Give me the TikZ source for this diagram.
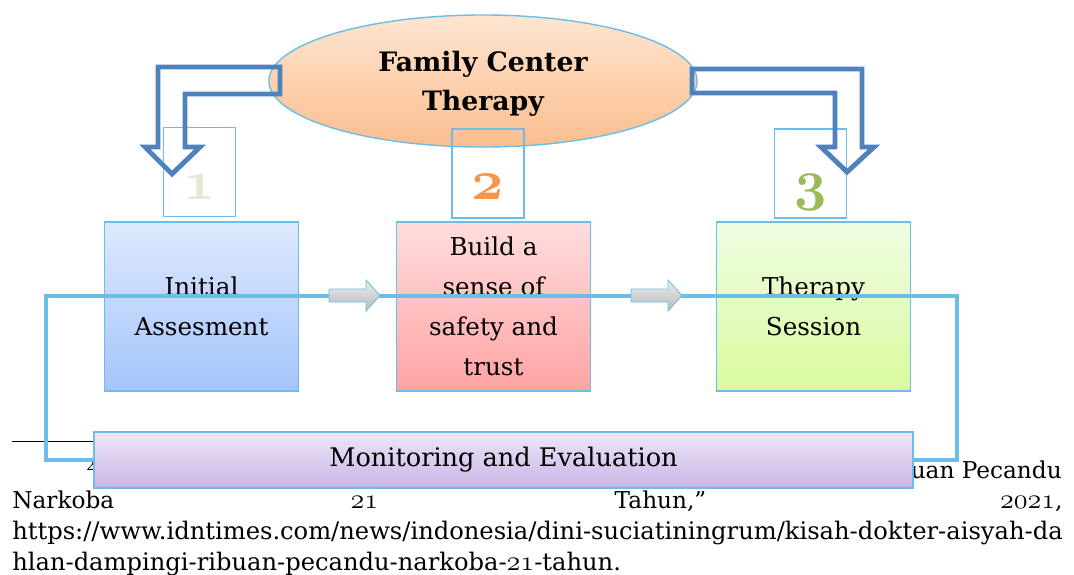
\RequirePackage{fix-cm}
\documentclass[tikz,border=0pt]{standalone}
\usetikzlibrary{shapes.geometric}
\usepackage{fontspec}
\setmainfont{DejaVu Serif}
\usepackage{xcolor}
\definecolor{edgeblue}{HTML}{6CBDE8}
\definecolor{flowblue}{HTML}{4F81BD}
\definecolor{numbeige}{HTML}{E9E6D8}
\definecolor{numorange}{HTML}{F79646}
\definecolor{numgreen}{HTML}{9BBB59}
\definecolor{assesstop}{HTML}{DDE9FD}
\definecolor{assessbot}{HTML}{A4C4FA}
\definecolor{safetytop}{HTML}{FFDDDD}
\definecolor{safetybot}{HTML}{FFA3A3}
\definecolor{sessiontop}{HTML}{F0FCE3}
\definecolor{sessionbot}{HTML}{D9FB9D}
\definecolor{monitortop}{HTML}{EEE6F7}
\definecolor{monitorbot}{HTML}{C8B5E6}
\definecolor{fcttop}{HTML}{FEE5D1}
\definecolor{fctbot}{HTML}{FBBE8E}

% old-style figures taken from cm math italic
\newcommand{\osnum}[1]{{\fontencoding{OML}\fontfamily{cmm}\fontshape{it}\selectfont #1}}
\newcommand{\footnum}[1]{{\fontsize{20}{20}\osnum{#1}}}

\begin{document}
\begin{tikzpicture}[x=0.025cm, y=-0.025cm,
    stage/.style n args={2}{draw=edgeblue, top color=#1, bottom color=#2,
                 minimum width=4.85cm, minimum height=4.225cm, align=center,
                 inner sep=0pt, line width=1pt, font=\fontsize{17.5}{28.45}\selectfont},
    numbox/.style={draw=edgeblue, line width=1pt, minimum width=1.8cm, minimum height=2.225cm},
    numtext/.style={text=#1, anchor=base, inner sep=0pt,
                 font=\fontseries{b}\fontsize{40}{40}\selectfont},
    foot/.style={inner sep=0pt, font=\fontsize{16.5}{20}\selectfont},
    loopline/.style={draw=edgeblue, line width=3pt, line join=miter},
    grayarrow/.style={draw=edgeblue, line width=0.6pt, top color=black!8, bottom color=black!27},
    bentarrow/.style={draw=flowblue, line width=3.5pt, line join=miter},
]
\useasboundingbox (0,0) rectangle (1074,574);

% Footnote behind the diagram
\draw[line width=0.7pt] (12,441) -- (200,441);
\node[foot, anchor=west, font=\fontsize{10}{10}\selectfont] (fnmark) at (86,465) {2};
\node[foot, anchor=base east] (fnA) at (1062,478) {uan Pecandu};
\node[foot, anchor=base west] (fnB) at (12,508)
    {\makebox[26.25cm][s]{Narkoba \footnum{21} Tahun,” \footnum{2021},}};
\node[foot, anchor=base west, font=\fontsize{17.2}{20}\selectfont] (fnC) at (12,539)
    {https://www.idntimes.com/news/indonesia/dini-suciatiningrum/kisah-dokter-aisyah-da};
\node[foot, anchor=base west, font=\fontsize{17.2}{20}\selectfont] (fnD) at (12,570)
    {hlan-dampingi-ribuan-pecandu-narkoba-\footnum{21}-tahun.};

% Top: Family Center Therapy
\node[ellipse, draw=edgeblue, line width=1pt, top color=fcttop, bottom color=fctbot,
      minimum width=10.7cm, minimum height=3.3cm, inner sep=0pt, align=center, text depth=0pt,
      font=\bfseries\fontsize{19}{27.7}\selectfont] (fct) at (483,81) {Family Center\\Therapy};

% Step numbers
\node[numbox] (box1) at (199.5,172) {};
\node[numbox] (box2) at (488,173.5) {};
\node[numbox] (box3) at (810.5,173.5) {};
\node[numtext=numbeige] (num1) at (199.5,199) {\osnum{1}};
\node[numtext=numorange] (num2) at (488,199) {\osnum{2}};
\node[numtext=numgreen] (num3) at (810.5,199) {\osnum{3}};

% Steps
\node[stage={assesstop}{assessbot}] (assess) at (201.5,306.5) {Initial\\Assesment};
\node[stage={safetytop}{safetybot}] (safety) at (493.5,306.5) {Build a\\sense of\\safety and\\trust};
\node[stage={sessiontop}{sessionbot}] (session) at (813.5,306.5) {Therapy\\Session};

% Loop
\draw[loopline] (46,296) rectangle (957,460);

% Block arrows between steps
\foreach \x in {329,631} {
  \draw[grayarrow] (\x,289) -- (\x+37,289) -- (\x+37,280) -- (\x+51,295.5)
      -- (\x+37,311) -- (\x+37,302) -- (\x,302) -- cycle;
}

% Bottom: Monitoring and Evaluation
\node[draw=edgeblue, line width=1pt, top color=monitortop, bottom color=monitorbot,
      minimum width=20.475cm, minimum height=1.4cm, inner sep=0pt,
      font=\fontsize{18.2}{24}\selectfont] (monitor) at (503.5,460) {Monitoring and Evaluation};

% Bent arrows from the centre
\draw[bentarrow] (280,67) -- (158,67) -- (158,147) -- (145,147) -- (172,174)
    -- (200,147) -- (185,147) -- (185,94) -- (280,94) -- cycle;
\draw[bentarrow] (692,69) -- (862,69) -- (862,147) -- (874,147) -- (847,172)
    -- (821,147) -- (835,147) -- (835,93) -- (692,93) -- cycle;

\end{tikzpicture}
\end{document}
